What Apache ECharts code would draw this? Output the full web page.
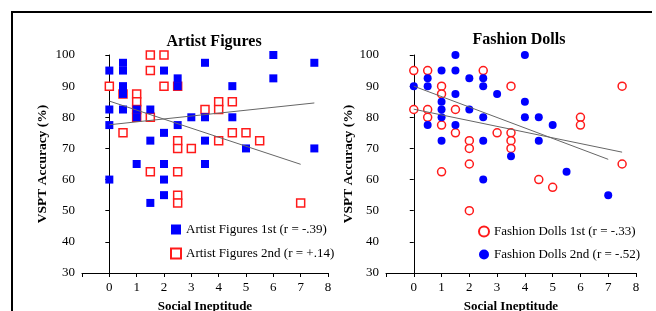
<!DOCTYPE html>
<html>
<head>
<meta charset="utf-8">
<script src="https://cdn.jsdelivr.net/npm/echarts@6/dist/echarts.min.js"></script>
<style>
  html, body { margin: 0; padding: 0; background: #fff; }
  #chart { width: 656px; height: 311px; }
</style>
</head>
<body>
<div id="chart"></div>
<script>
// 数据
var xTicks = [-1, 0, 1, 2, 3, 4, 5, 6, 7, 8];
var yTicks = [30, 40, 50, 60, 70, 80, 90, 100];

var artist1st = [
    [0, 95], [0, 82.5], [0, 77.5], [0, 60],
    [0.5, 97.5], [0.5, 95], [0.5, 90], [0.5, 87.5], [0.5, 82.5],
    [1, 82.5], [1, 80], [1, 65],
    [1.5, 82.5], [1.5, 72.5], [1.5, 52.5],
    [2, 95], [2, 75], [2, 65], [2, 60], [2, 55],
    [2.5, 92.5], [2.5, 90], [2.5, 77.5],
    [3, 80],
    [3.5, 97.5], [3.5, 80], [3.5, 72.5], [3.5, 65],
    [4.5, 90], [4.5, 80],
    [5, 70],
    [6, 100], [6, 92.5],
    [7.5, 97.5], [7.5, 70]
];
var artist2nd = [
    [0, 90], [0.5, 87.5], [0.5, 75],
    [1, 87.5], [1, 85], [1, 82.5], [1, 80],
    [1.5, 100], [1.5, 95], [1.5, 80], [1.5, 62.5],
    [2, 100], [2, 90],
    [2.5, 90], [2.5, 72.5], [2.5, 70], [2.5, 62.5], [2.5, 55], [2.5, 52.5],
    [3, 70],
    [3.5, 82.5],
    [4, 85], [4, 82.5], [4, 72.5],
    [4.5, 85], [4.5, 75],
    [5, 75],
    [5.5, 72.5],
    [7, 52.5]
];
var dolls1st = [
    [0, 95], [0, 82.5],
    [0.5, 95], [0.5, 82.5], [0.5, 80],
    [1, 90], [1, 87.5], [1, 77.5], [1, 62.5],
    [1.5, 82.5], [1.5, 75],
    [2, 72.5], [2, 70], [2, 65], [2, 50],
    [2.5, 95],
    [3, 75],
    [3.5, 90], [3.5, 75], [3.5, 72.5], [3.5, 70],
    [4.5, 60],
    [5, 57.5],
    [6, 80], [6, 77.5],
    [7.5, 90], [7.5, 65]
];
var dolls2nd = [
    [0, 90],
    [0.5, 92.5], [0.5, 90], [0.5, 77.5],
    [1, 95], [1, 85], [1, 82.5], [1, 80], [1, 72.5],
    [1.5, 100], [1.5, 95], [1.5, 87.5], [1.5, 77.5],
    [2, 92.5], [2, 82.5],
    [2.5, 92.5], [2.5, 90], [2.5, 80], [2.5, 72.5], [2.5, 60],
    [3, 87.5],
    [3.5, 67.5],
    [4, 100], [4, 85], [4, 80],
    [4.5, 80], [4.5, 72.5],
    [5, 77.5],
    [5.5, 62.5],
    [7, 55]
];
// 趋势线（从图上读取端点）
var artistTrendA = [[0, 85.2], [7, 64.9]];
var artistTrendB = [[0, 77.6], [7.5, 84.6]];
var dollsTrendA = [[0, 90], [7, 66.5]];
var dollsTrendB = [[0, 82.6], [7.5, 68.8]];

var serif = '"Liberation Serif", "Times New Roman", serif';
var blue = '#0000ff';
var red = '#ff1a1a';

(function () {
    var myChart = echarts.init(document.getElementById('chart'));

    function xAxis(gridIndex) {
        return {
            type: 'value',
            gridIndex: gridIndex,
            min: xTicks[0],
            max: xTicks[xTicks.length - 1],
            interval: 1,
            name: 'Social Ineptitude',
            nameLocation: 'middle',
            nameGap: 27,
            nameTextStyle: { fontFamily: serif, fontWeight: 'bold', fontSize: 13, color: '#000' },
            axisLine: { onZero: false, lineStyle: { color: '#000', width: 1 } },
            axisTick: { length: 4, lineStyle: { color: '#000' } },
            axisLabel: {
                fontFamily: serif, fontSize: 13, color: '#000', margin: 8,
                formatter: function (v) { return v < 0 ? '' : v; }
            },
            splitLine: { show: false }
        };
    }
    function yAxis(gridIndex, gap) {
        return {
            type: 'value',
            gridIndex: gridIndex,
            min: yTicks[0],
            max: yTicks[yTicks.length - 1],
            interval: 10,
            name: 'VSPT Accuracy (%)',
            nameLocation: 'middle',
            nameGap: gap,
            nameTextStyle: { fontFamily: serif, fontWeight: 'bold', fontSize: 13.5, color: '#000' },
            axisLine: { show: true, lineStyle: { color: '#000', width: 1 } },
            axisTick: { show: true, length: 4, lineStyle: { color: '#000' } },
            axisLabel: { fontFamily: serif, fontSize: 13, color: '#000', margin: 7 },
            splitLine: { show: false }
        };
    }
    function filled(name, data, symbol, idx) {
        return {
            name: name, type: 'scatter', xAxisIndex: idx, yAxisIndex: idx,
            symbol: symbol, symbolSize: 8, data: data,
            itemStyle: { color: blue, opacity: 1 }
        };
    }
    function hollow(name, data, symbol, idx) {
        return {
            name: name, type: 'scatter', xAxisIndex: idx, yAxisIndex: idx,
            symbol: symbol, symbolSize: 8, data: data,
            itemStyle: { color: '#fff', borderColor: red, borderWidth: 1.5, opacity: 1 }
        };
    }
    function trend(data, idx) {
        return {
            type: 'line', xAxisIndex: idx, yAxisIndex: idx, data: data,
            symbol: 'none', silent: true,
            lineStyle: { color: '#666', width: 1 }
        };
    }

    var legendText = { fontFamily: serif, fontSize: 13, color: '#000' };

    var option = {
        animation: false,
        title: [
            { text: 'Artist Figures', left: 209, top: 29, textAlign: 'center',
              textStyle: { fontFamily: serif, fontWeight: 'bold', fontSize: 16, color: '#000' } },
            { text: 'Fashion Dolls', left: 514, top: 27, textAlign: 'center',
              textStyle: { fontFamily: serif, fontWeight: 'bold', fontSize: 16, color: '#000' } }
        ],
        legend: [
            {
                data: ['Artist Figures 1st (r = -.39)', 'Artist Figures 2nd (r = +.14)'],
                orient: 'vertical', left: 170, top: 223, padding: 0,
                itemWidth: 10, itemHeight: 10, itemGap: 11,
                textStyle: legendText
            },
            {
                data: ['Fashion Dolls 1st (r = -.33)', 'Fashion Dolls 2nd (r = -.52)'],
                orient: 'vertical', left: 478, top: 225, padding: 0,
                itemWidth: 10, itemHeight: 10, itemGap: 10,
                textStyle: legendText
            }
        ],
        grid: [
            { left: 82, top: 55, width: 246, height: 218, outerBoundsMode: 'none', containLabel: false },
            { left: 386, top: 55, width: 250, height: 218, outerBoundsMode: 'none', containLabel: false }
        ],
        xAxis: [xAxis(0), xAxis(1)],
        yAxis: [yAxis(0, 32), yAxis(1, 28)],
        series: [
            hollow('Artist Figures 2nd (r = +.14)', artist2nd, 'rect', 0),
            filled('Artist Figures 1st (r = -.39)', artist1st, 'rect', 0),
            trend(artistTrendA, 0),
            trend(artistTrendB, 0),
            hollow('Fashion Dolls 1st (r = -.33)', dolls1st, 'circle', 1),
            filled('Fashion Dolls 2nd (r = -.52)', dolls2nd, 'circle', 1),
            trend(dollsTrendA, 1),
            trend(dollsTrendB, 1)
        ],
        // 外框
        graphic: [
            { type: 'line', shape: { x1: 11, y1: 12, x2: 652, y2: 12 }, style: { stroke: '#000', lineWidth: 2 } },
            { type: 'line', shape: { x1: 12, y1: 12, x2: 12, y2: 311 }, style: { stroke: '#000', lineWidth: 2 } }
        ]
    };
    myChart.setOption(option);

    window.addEventListener('resize', function () {
        myChart.resize();
    });
})();
</script>
</body>
</html>
